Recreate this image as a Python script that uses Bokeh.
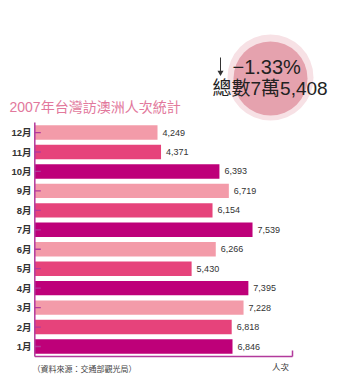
from bokeh.plotting import figure
from bokeh.models import Range1d, ColumnDataSource
from bokeh.core.properties import value
from bokeh.embed import file_html
from bokeh.resources import INLINE

# ---- data ----
months = ["1月", "2月", "3月", "4月", "5月", "6月", "7月", "8月", "9月", "10月", "11月", "12月"]
visitors = [6846, 6818, 7228, 7395, 5430, 6266, 7539, 6154, 6719, 6393, 4371, 4249]
title_text = "2007年台灣訪澳洲人次統計"
change_text = "−1.33%"
total_text = "總數7萬5,408"
unit_text = "人次"
source_text = "（資料來源：交通部觀光局）"
palette = ["#BE0079", "#E6437B", "#F39BA9"]

W, H = 358, 379
K = 0.02888          # px per visitor
X0 = 34.3            # page px of zero
ROW = 19.45          # px per month row
Y1 = 346.0           # page px (from top) of 1月 centre

MIX = "'Liberation Sans', 'Noto Sans CJK TC'"

def X(px):
    return (px - X0) / K

def Y(py):
    return 1 + (Y1 - py) / ROW

p = figure(width=W, height=H, output_backend="svg", toolbar_location=None,
           x_range=Range1d(X(0), X(W)), y_range=Range1d(Y(H), Y(0)),
           x_axis_type=None, y_axis_type=None, min_border=0)
p.grid.visible = False
p.outline_line_color = None
p.background_fill_color = "white"
p.border_fill_color = "white"

idx = list(range(1, len(months) + 1))
colors = [palette[i % 3] for i in range(len(months))]
src = ColumnDataSource(dict(
    y=idx, v=visitors, m=months, c=colors,
    lbl=["{:,}".format(v) for v in visitors],
    lx=[v + 5 / K for v in visitors],
))

p.hbar(y="y", left=0, right="v", height=0.74, fill_color="c", line_color=None, source=src)

axis_col = "#B23A9C"
# axes
p.segment(x0=[0], y0=[Y(356)], x1=[0], y1=[Y(122)], line_color=axis_col, line_width=1.5)
p.segment(x0=[0], y0=[Y(356)], x1=[X(292)], y1=[Y(356)], line_color=axis_col, line_width=1.5)
p.segment(x0=[X(292)], y0=[Y(356)], x1=[X(292)], y1=[Y(350)], line_color=axis_col, line_width=1.5)
# ticks
p.segment(x0=[0] * len(idx), y0=idx, x1=[6 / K] * len(idx), y1=idx, line_color=axis_col, line_width=1.3)

# month labels
p.text(x=X(31), y="y", text="m", source=src, text_align="right", text_baseline="middle",
       text_font=value(MIX), text_font_size="9.5px", text_color="#333333",
       text_font_style="bold")
# value labels
p.text(x="lx", y="y", text="lbl", source=src, text_align="left", text_baseline="middle",
       text_font=value("Liberation Sans"), text_font_size="9px", text_color="#333333")

# title
p.text(x=[X(9)], y=[Y(106)], text=[title_text], text_align="left", text_baseline="middle",
       text_font=value(MIX), text_font_size="14px", text_color="#E2789C")

# bubble
p.scatter(x=[X(270)], y=[Y(77)], size=86, marker="circle", fill_color="#F7E1E5", line_color=None)
p.scatter(x=[X(270)], y=[Y(78)], size=74, marker="circle", fill_color="#E5A2AE", line_color=None)
p.text(x=[X(232)], y=[Y(66)], text=[change_text], text_align="left", text_baseline="middle",
       text_font=value(MIX), text_font_size="20px", text_color="#222222")
# down arrow
p.segment(x0=[X(220)], y0=[Y(57)], x1=[X(220)], y1=[Y(71)], line_color="#333333", line_width=1)
p.scatter(x=[X(220)], y=[Y(72)], size=6, marker="inverted_triangle", fill_color="#333333", line_color=None)
p.text(x=[X(212)], y=[Y(88)], text=[total_text], text_align="left", text_baseline="middle",
       text_font=value(MIX), text_font_size="19px", text_color="#222222")

# unit and source
p.text(x=[X(280)], y=[Y(365)], text=[unit_text], text_align="center", text_baseline="middle",
       text_font=value("Noto Sans CJK TC"), text_font_size="8.5px", text_color="#333333")
p.text(x=[X(32)], y=[Y(368)], text=[source_text], text_align="left", text_baseline="middle",
       text_font=value("Noto Sans CJK TC"), text_font_size="8px", text_color="#444444")

open("out.html", "w").write(file_html(p, INLINE))
